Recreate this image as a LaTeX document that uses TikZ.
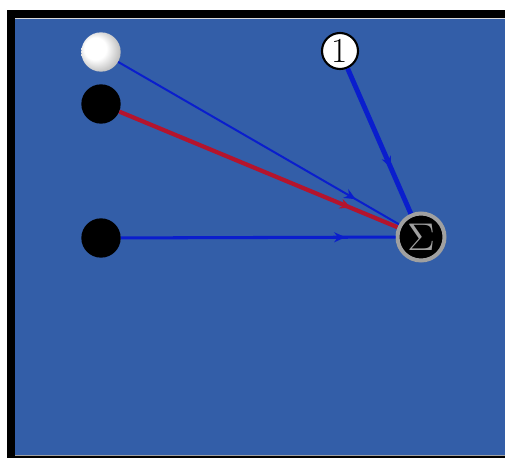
\documentclass[tikz,border=0pt]{standalone}
\usepackage{amsmath}
\usepackage{graphicx}
\usepackage{xcolor}
\usepackage{tikz}
\usetikzlibrary{arrows.meta,decorations.markings}
\definecolor{panelblue}{RGB}{51,94,168}
\definecolor{wireblue}{RGB}{10,30,205}
\definecolor{wirered}{RGB}{180,20,45}
\definecolor{ringgray}{RGB}{160,160,160}
\pgfdeclareradialshading{pearl}{\pgfpoint{-10bp}{6bp}}{color(0bp)=(white);
  color(14bp)=(white); color(30bp)=(gray!55); color(50bp)=(gray!55)}

\begin{document}
\begin{tikzpicture}[x=0.03cm,y=-0.03cm,
    unit/.style={circle,inner sep=0pt,minimum size=1.18cm},
    wire/.style={postaction={decorate},
                 decoration={markings,mark=at position -1.5cm with {\arrow{Stealth[length=3.4mm,width=3mm]}}}}]
  \useasboundingbox (0,0) rectangle (505,458);
  % frame and panel
  \fill[white] (0,0) rectangle (505,458);
  \fill[black] (7,10) rectangle (505,458);
  \fill[panelblue] (15,18) rectangle (505,456);
  \draw[white!70!gray,line width=0.6pt] (15,18.5) -- (505,18.5);
  \draw[ringgray,line width=1pt] (15,455.5) -- (505,455.5);
  % units
  \node[unit,shading=pearl] (bias) at (101,52) {};
  \node[unit,fill=black] (inA) at (101,104) {};
  \node[unit,fill=black] (inB) at (101,238) {};
  \node[unit,fill=white,draw=black,line width=1.8pt,minimum size=1.08cm,
        font=\fontsize{30}{32}\selectfont] (one) at (340,51) {1};
  \node[unit,fill=black,draw=ringgray,line width=3.4pt,minimum size=1.41cm,
        text=ringgray] (sum) at (421,237) {\scalebox{3.3}{$\Sigma$}};
  % connections
  \draw[wire,wireblue,line width=1.7pt] (bias) -- (sum);
  \draw[wire,wirered,line width=3.6pt] (inA) -- (sum);
  \draw[wire,wireblue,line width=2.6pt] (inB) -- (sum);
  \draw[wire,wireblue,line width=4.2pt] (one) -- (sum);
\end{tikzpicture}
\end{document}
